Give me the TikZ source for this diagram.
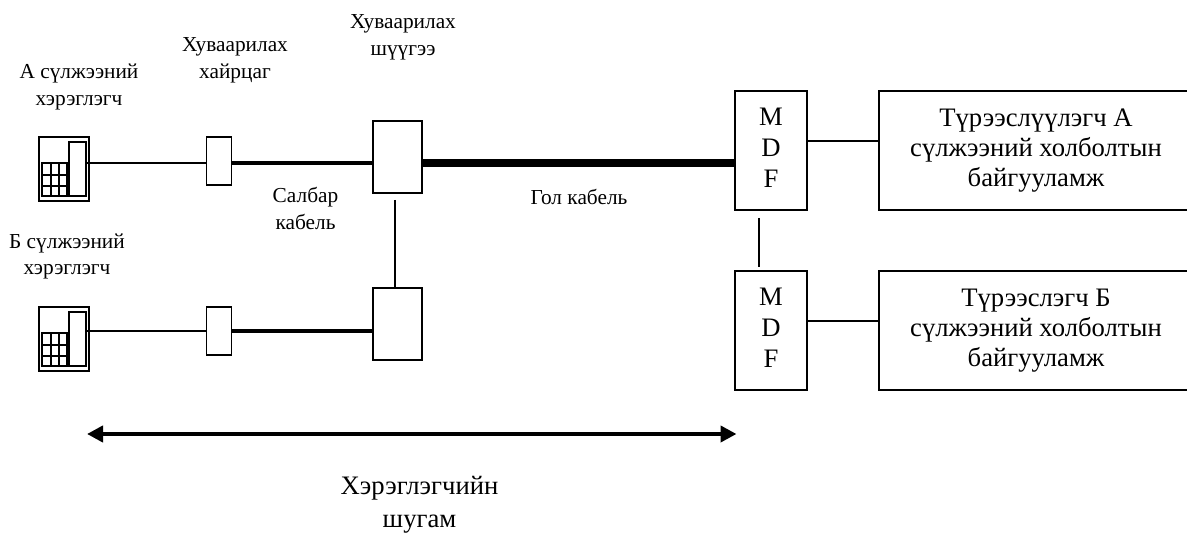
\documentclass[tikz,border=0pt]{standalone}
\usepackage{fontspec}
\setmainfont{Liberation Serif}
\usetikzlibrary{arrows.meta}
\tikzset{
 x=0.75pt,y=-0.75pt,
 bx/.style={draw,line width=1.2pt,rectangle,inner sep=0pt},
 thin line/.style={line width=1.1pt},
 med line/.style={line width=3pt},
 thick line/.style={line width=5.6pt},
 lab/.style={align=center,font=\fontsize{16}{20}\selectfont,inner sep=0pt},
 big/.style={align=center,font=\fontsize{20}{22.5}\selectfont,inner sep=0pt},
 mdf/.style={align=center,font=\fontsize{20}{23.3}\selectfont,inner sep=0pt},
}
\newcommand{\phonepic}[2]{%
 \begin{scope}[shift={(#1,#2)}]
  \draw[line width=1.2pt] (0,0) rectangle (50,64);
  \draw[line width=1.3pt] (30.3,5) rectangle (47,59);
  \draw[line width=1.6pt] (2.7,26) rectangle (28.3,59);
  \draw[line width=1.3pt] (2.7,38) -- (28.3,38) (2.7,48.7) -- (28.3,48.7) (11.7,26) -- (11.7,59) (20,26) -- (20,59);
 \end{scope}}
\begin{document}
\begin{tikzpicture}
\useasboundingbox (0,0) rectangle (1187,534);
\phonepic{39}{137}
\phonepic{39}{307}
\coordinate (pa) at (87,163);
\coordinate (pb) at (87,331);
\node[bx,minimum width=18.5pt,minimum height=36pt] (ha) at (219,161) {};
\node[bx,minimum width=18.5pt,minimum height=36pt] (hb) at (219,331) {};
\node[bx,minimum width=37pt,minimum height=54pt] (sa) at (397.5,157) {};
\node[bx,minimum width=37pt,minimum height=54pt] (sb) at (397.5,324) {};
\node[bx,minimum width=54pt,minimum height=89.5pt,label={[mdf,yshift=2pt]center:M\\D\\F}] (ma) at (771,150.5) {};
\node[bx,minimum width=54pt,minimum height=89.5pt,label={[mdf,yshift=2pt]center:M\\D\\F}] (mb) at (771,330.5) {};
\node[bx,minimum width=235.5pt,minimum height=89.5pt,big] (ta) at (1036,150.5) {Түрээслүүлэгч А\\сүлжээний холболтын\\байгууламж};
\node[bx,minimum width=235.5pt,minimum height=89.5pt,big] (tb) at (1036,330.5) {Түрээслэгч Б\\сүлжээний холболтын\\байгууламж};
\draw[thin line] (pa) -- (ha.west|-pa);
\draw[thin line] (pb) -- (hb.west|-pb);
\draw[med line] (ha.east|-pa) -- (sa.west|-pa);
\draw[med line] (hb.east|-pb) -- (sb.west|-pb);
\coordinate (ca) at (423,163);
\draw[thick line] (ca) -- (ma.west|-ca);
\coordinate (s1) at (395,200);
\draw[thin line] (s1) -- (s1|-sb.north);
\coordinate (m1) at (759,218);
\coordinate (m2) at (759,267);
\draw[thin line] (m1) -- (m2);
\draw[thin line] (ma.east|-0,141) -- (ta.west|-0,141);
\draw[thin line] (mb.east|-0,321) -- (tb.west|-0,321);
\coordinate (al) at (87,434);
\coordinate (ar) at (736.5,434);
\draw[med line,{Triangle[length=12pt,width=12pt]}-{Triangle[length=12pt,width=12pt]}] (al) -- (ar);
\node[lab] (t1) at (79,87) {А сүлжээний\\хэрэглэгч};
\node[lab] (t2) at (67,256.5) {Б сүлжээний\\хэрэглэгч};
\node[lab] (t3) at (235,60.5) {Хуваарилах\\хайрцаг};
\node[lab] (t4) at (403,37) {Хуваарилах\\шүүгээ};
\node[lab] (t5) at (305.5,208.5) {Салбар\\кабель};
\node[lab] (t6) at (579,197) {Гол кабель};
\node[big,font=\fontsize{20}{25}\selectfont] (t7) at (419.5,505) {Хэрэглэгчийн\\шугам};
\end{tikzpicture}
\end{document}
